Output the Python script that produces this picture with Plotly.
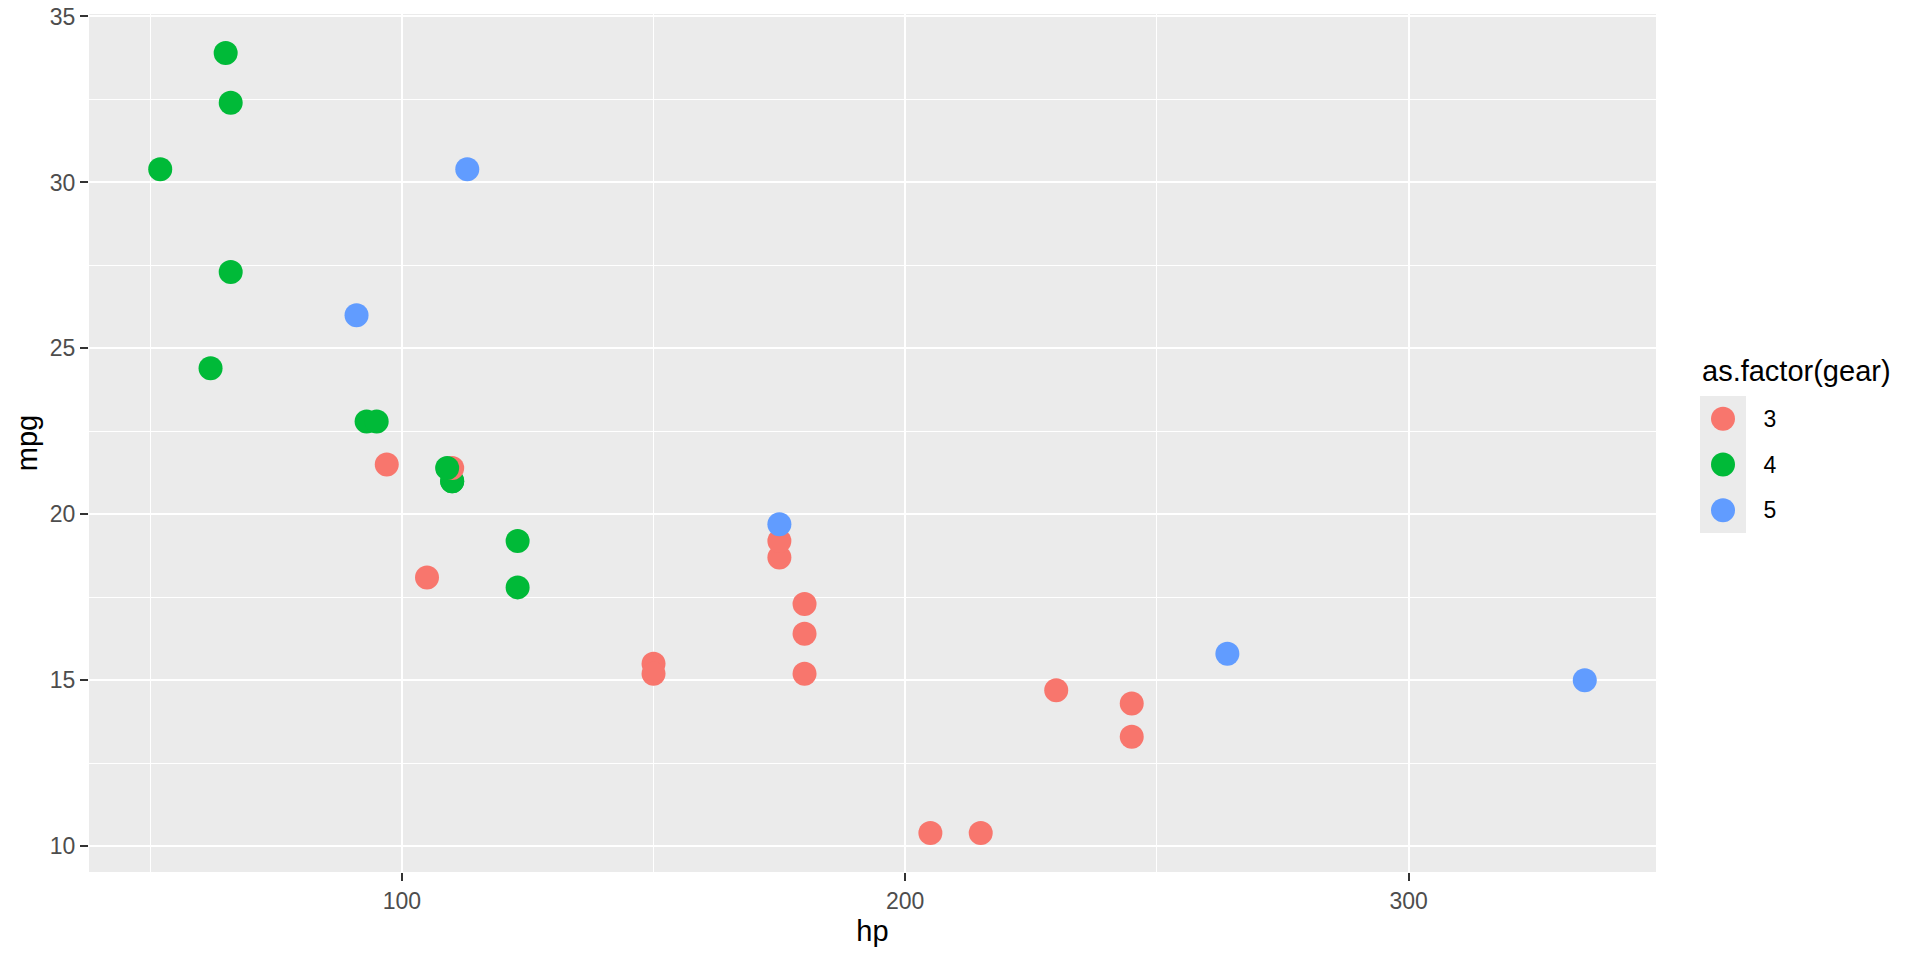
import plotly.graph_objects as go

# mtcars: horsepower, miles per gallon, number of forward gears (data order)
hp = [110, 110, 93, 110, 175, 105, 245, 62, 95, 123, 123, 180, 180, 180, 205, 215,
      230, 66, 52, 65, 97, 150, 150, 245, 175, 66, 91, 113, 264, 175, 335, 109]
mpg = [21.0, 21.0, 22.8, 21.4, 18.7, 18.1, 14.3, 24.4, 22.8, 19.2, 17.8, 16.4, 17.3, 15.2, 10.4, 10.4,
       14.7, 32.4, 30.4, 33.9, 21.5, 15.5, 15.2, 13.3, 19.2, 27.3, 26.0, 30.4, 15.8, 19.7, 15.0, 21.4]
gear = [4, 4, 4, 3, 3, 3, 3, 4, 4, 4, 4, 3, 3, 3, 3, 3,
        3, 4, 4, 4, 3, 3, 3, 3, 3, 4, 5, 5, 5, 5, 5, 4]

gear_levels = [3, 4, 5]
gear_colors = ["#F8766D", "#00BA38", "#619CFF"]
color_of = dict(zip(gear_levels, gear_colors))

x_ticks = [100, 200, 300]
y_ticks = [10, 15, 20, 25, 30, 35]

FONT = "Liberation Sans, Arial, sans-serif"
W, H = 1920, 960
L, R, T, B = 89, 0, 14, 88
pw, ph = W - L - R, H - T - B


def px_x(p):
    return (p - L) / pw


def px_y(p):
    return (H - B - p) / ph


fig = go.Figure()

# all points in one layer, in data order (like ggplot)
fig.add_trace(go.Scatter(
    x=hp, y=mpg, mode="markers",
    marker=dict(size=24, color=[color_of[g] for g in gear], line=dict(width=0)),
    showlegend=False, xaxis="x", yaxis="y",
))

# legend keys drawn on a small side axis
fig.add_trace(go.Scatter(
    x=[0.5] * len(gear_levels), y=gear_levels, mode="markers",
    marker=dict(size=24, color=gear_colors, line=dict(width=0)),
    showlegend=False, xaxis="x2", yaxis="y2", hoverinfo="skip",
))

xr = [min(hp) - 0.05 * (max(hp) - min(hp)), max(hp) + 0.05 * (max(hp) - min(hp))]
yr = [min(mpg) - 0.05 * (max(mpg) - min(mpg)), max(mpg) + 0.05 * (max(mpg) - min(mpg))]

fig.update_layout(
    width=W, height=H,
    margin=dict(l=L, r=R, t=T, b=B),
    paper_bgcolor="white",
    plot_bgcolor="#EBEBEB",
    font=dict(family=FONT, color="black"),
    xaxis=dict(
        domain=[0, px_x(1656)], range=xr, anchor="y",
        tickvals=x_ticks, ticks="outside", ticklen=8, tickwidth=2.2, tickcolor="#333333",
        tickfont=dict(size=23, color="#4D4D4D"),
        showgrid=True, gridcolor="white", gridwidth=2.2, zeroline=False, showline=False,
        minor=dict(dtick=50, tick0=0, showgrid=True, gridcolor="white", gridwidth=1.1, ticks=""),
        title=dict(text="hp", font=dict(size=29, color="black"), standoff=8),
    ),
    yaxis=dict(
        domain=[0, 1], range=yr, anchor="x",
        tickvals=y_ticks, ticks="outside", ticklen=8, tickwidth=2.2, tickcolor="#333333",
        tickfont=dict(size=23, color="#4D4D4D"),
        showgrid=True, gridcolor="white", gridwidth=2.2, zeroline=False, showline=False,
        minor=dict(dtick=2.5, tick0=0, showgrid=True, gridcolor="white", gridwidth=1.1, ticks=""),
        title=dict(text="mpg", font=dict(size=29, color="black"), standoff=3),
    ),
    xaxis2=dict(
        domain=[px_x(1700), px_x(1746)], range=[0, 1], anchor="y2",
        showgrid=False, zeroline=False, showticklabels=False, ticks="", fixedrange=True,
    ),
    yaxis2=dict(
        domain=[px_y(533), px_y(396)], range=[5.5, 2.5], anchor="x2", side="right",
        tickvals=gear_levels, ticktext=[str(g) for g in gear_levels],
        ticks="outside", ticklen=12, tickcolor="rgba(0,0,0,0)",
        tickfont=dict(size=23, color="black"),
        showgrid=False, zeroline=False, fixedrange=True,
    ),
    annotations=[dict(
        text="as.factor(gear)", xref="paper", yref="paper",
        x=px_x(1700), y=px_y(371), xanchor="left", yanchor="middle",
        showarrow=False, font=dict(size=29, color="black"),
    )],
)

# drop the browser's default page margin so the figure sits at (0, 0)
fig.write_html("out.html", config={"displayModeBar": False},
               post_script="document.body.style.margin='0';")
